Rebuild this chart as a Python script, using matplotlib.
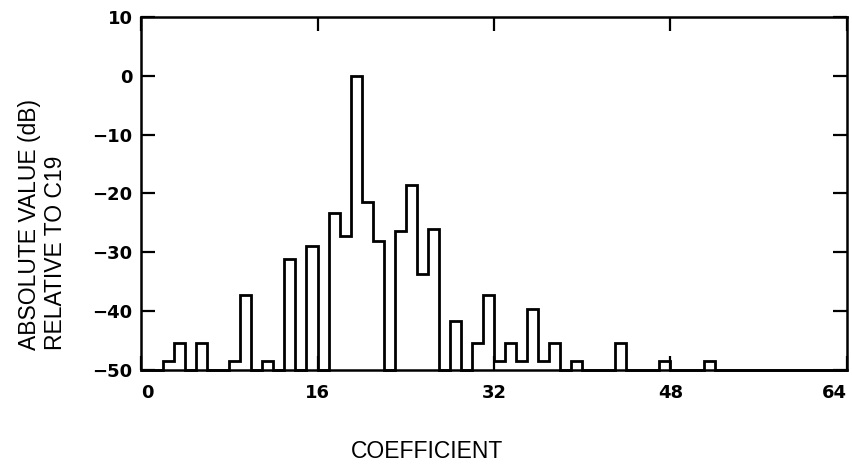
import numpy as np
import matplotlib
matplotlib.use("Agg")
import matplotlib.pyplot as plt

# ---- data ----
bin_edges = list(range(0, 65))          # coefficient index bins [n, n+1)
level_db = [
    -50, -50, -48.5, -45.4, -50, -45.4, -50, -50,      # 0-7
    -48.5, -37.2, -50, -48.5, -50, -31.1, -50, -29.0,  # 8-15
    -50, -23.3, -27.3, 0.0, -21.4, -28.0, -50, -26.4,  # 16-23
    -18.6, -33.6, -26.1, -50, -41.6, -50, -45.4, -37.2,  # 24-31
    -48.5, -45.4, -48.5, -39.7, -48.5, -45.4, -50, -48.5,  # 32-39
    -50, -50, -50, -45.4, -50, -50, -50, -48.5,        # 40-47
    -50, -50, -50, -48.5, -50, -50, -50, -50,          # 48-55
    -50, -50, -50, -50, -50, -50, -50, -50,            # 56-63
]
x_ticks = [0, 16, 32, 48, 64]
y_ticks = [10, 0, -10, -20, -30, -40, -50]
ylabel_lines = ["ABSOLUTE VALUE (dB)", "RELATIVE TO C19"]
xlabel_text = "COEFFICIENT"

W, H = 853, 472
fig = plt.figure(figsize=(W / 100, H / 100), dpi=100)
L, R, T, B = 141, 847, 17, 370
ax = fig.add_axes([L / W, 1 - B / H, (R - L) / W, (B - T) / H])

ax.stairs(level_db, bin_edges, baseline=None, color="black", lw=2.0,
          clip_on=False, zorder=3)

ax.set_xlim(0, 64)
ax.set_ylim(-50, 10)
ax.set_xticks(x_ticks)
ax.set_yticks(y_ticks)

tick_family = ["DejaVu Sans"]
ax.set_xticklabels([str(v) for v in x_ticks])
ax.set_yticklabels([("\u2212" + str(-v)) if v < 0 else str(v) for v in y_ticks])
for lab in ax.get_xticklabels() + ax.get_yticklabels():
    lab.set_family(tick_family)
    lab.set_fontweight("bold")
    lab.set_fontsize(13)
xl = ax.get_xticklabels()
xl[0].set_horizontalalignment("left")
xl[-1].set_horizontalalignment("right")

ax.tick_params(axis="both", direction="in", top=True, right=True,
               length=10, width=1.6, color="black")
ax.tick_params(axis="x", pad=10)
ax.tick_params(axis="y", pad=6)
for s in ax.spines.values():
    s.set_linewidth(1.8)
    s.set_color("black")

label_family = ["Liberation Sans", "DejaVu Sans"]
fig.text(30 / W, 1 - 350 / H, ylabel_lines[0], rotation=90, ha="center",
         va="bottom", fontsize=16.5, family=label_family)
fig.text(56 / W, 1 - 350 / H, ylabel_lines[1], rotation=90, ha="center",
         va="bottom", fontsize=16.5, family=label_family)
fig.text(427 / W, 1 - 451 / H, xlabel_text, ha="center", va="center",
         fontsize=16.5, family=label_family)

fig.savefig("out.png", dpi=100, facecolor="white")
